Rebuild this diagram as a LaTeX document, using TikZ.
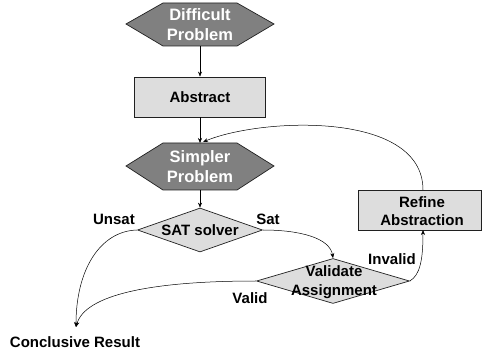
\documentclass[tikz,border=0pt]{standalone}
\usepackage{fontspec}
\setmainfont{Liberation Sans}
\usetikzlibrary{shapes.geometric,arrows.meta}
\definecolor{hexfill}{HTML}{808080}
\definecolor{boxfill}{HTML}{DDDDDD}
\definecolor{edgecol}{HTML}{202020}
\begin{document}
\begin{tikzpicture}[x=1pt,y=-1pt,
  lbl/.style={font=\fontsize{15}{18.5}\selectfont\bfseries, align=center, inner sep=0pt},
  hexlbl/.style={lbl, font=\fontsize{16.5}{20}\selectfont\bfseries, text=white},
  hexshape/.style={draw=edgecol, line width=0.7pt, fill=hexfill},
  boxnode/.style={draw=edgecol, line width=0.8pt, fill=boxfill, rectangle, inner sep=0pt},
  dia/.style={draw=edgecol, line width=0.7pt, fill=boxfill, diamond, inner sep=0pt},
  conn/.style={draw=black, line width=0.5pt, -{Stealth[length=5pt,width=4pt]}}
]
\useasboundingbox (0,0) rectangle (485,355);
% Difficult Problem hexagon
\draw[hexshape] (126,24) -- (163,3) -- (237,3) -- (274,24) -- (237,46) -- (163,46) -- cycle;
\coordinate (dpS) at (200,46);
\node[hexlbl] (dp) at (200,25) {Difficult\\Problem};
% Abstract
\node[boxnode, minimum width=131pt, minimum height=40pt] (abs) at (200,97) {};
\node[lbl] (abst) at (200,97) {Abstract};
% Simpler Problem hexagon
\draw[hexshape] (126,166) -- (163,143) -- (237,143) -- (274,166) -- (237,190) -- (163,190) -- cycle;
\coordinate (spN) at (200,143);
\coordinate (spNr) at (203,142);
\coordinate (spS) at (200,190);
\node[hexlbl] (sp) at (200,167) {Simpler\\Problem};
% SAT solver
\node[dia, minimum width=125pt, minimum height=44pt] (sat) at (200,230) {};
\node[lbl] (satt) at (200,230) {SAT solver};
% Validate Assignment
\node[dia, minimum width=153pt, minimum height=45pt] (val) at (333,281) {};
\node[lbl] (valt) at (334,282) {Validate\\Assignment};
% Refine Abstraction
\node[boxnode, minimum width=123pt, minimum height=40pt] (ref) at (419.5,210) {};
\node[lbl] (reft) at (422,211) {\fontsize{15}{17.5}\selectfont Refine\\Abstraction};
\coordinate (refN) at (423,190);
\coordinate (refS) at (423,230);
% Conclusive Result
\coordinate (cr) at (76,327);
\node[lbl, anchor=north] (crt) at (75,336) {Conclusive Result};
% Labels
\node[lbl] (unsat) at (114,219) {Unsat};
\node[lbl] (satl) at (268,219) {Sat};
\node[lbl] (inv) at (392,259) {Invalid};
\node[lbl] (vall) at (250,298) {Valid};
% Connectors
\draw[conn] (dpS) -- (abs.north);
\draw[conn] (abs.south) -- (spN);
\draw[conn] (spS) -- (sat.north);
\draw[conn] (refN) .. controls (423,110) and (260,118) .. (spNr);
\draw[conn] (sat.west) .. controls (100,231) and (76,270) .. (cr);
\draw[conn] (val.west) .. controls (150,281) and (85,295) .. (cr);
\draw[conn] (sat.east) .. controls (300,230) and (330,238) .. (val.north);
\draw[conn] (val.east) .. controls (420,275) and (423,260) .. (refS);
\end{tikzpicture}
\end{document}
